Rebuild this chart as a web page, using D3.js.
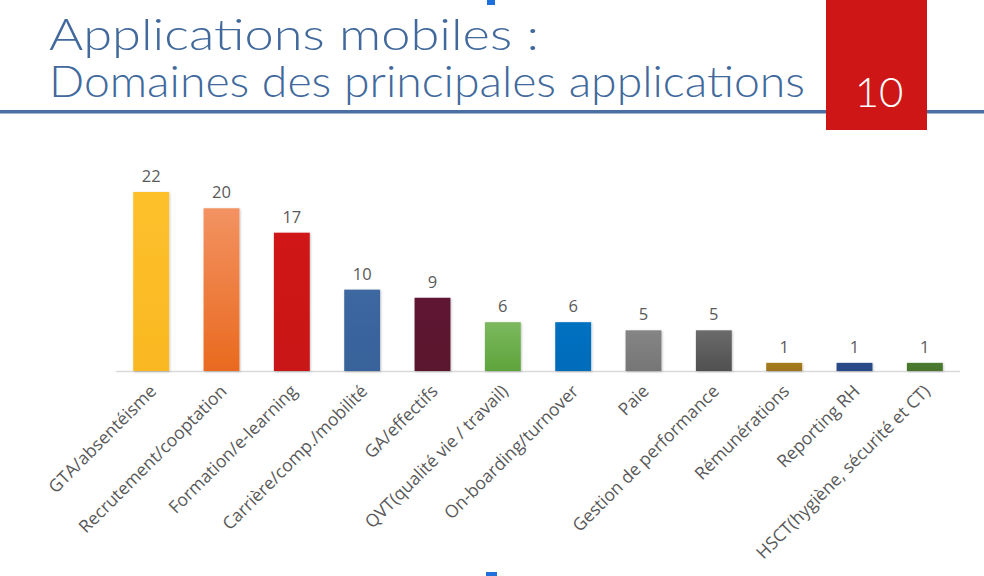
<!DOCTYPE html>
<html>
<head>
<meta charset="utf-8">
<script src="https://cdn.jsdelivr.net/npm/d3@7"></script>
<style>
  html, body { margin: 0; padding: 0; background: #ffffff; }
  svg { display: block; }
</style>
</head>
<body>
<svg id="chart" width="984" height="576"></svg>
<script>
// ---- data ----
const categories = [
  "GTA/absentéisme",
  "Recrutement/cooptation",
  "Formation/e-learning",
  "Carrière/comp./mobilité",
  "GA/effectifs",
  "QVT(qualité vie / travail)",
  "On-boarding/turnover",
  "Paie",
  "Gestion de performance",
  "Rémunérations",
  "Reporting RH",
  "HSCT(hygiène, sécurité et CT)"
];
const values = [22, 20, 17, 10, 9, 6, 6, 5, 5, 1, 1, 1];
const titleLines = ["Applications mobiles :", "Domaines des principales applications"];
const pageNumber = "10";

// ---- styles ----
const barTop =    ["#fdc02c", "#f39262", "#d01717", "#3c67a0", "#5f1631", "#7cb860", "#0070c0", "#858585", "#6b6b6b", "#a67b1f", "#2c4c8b", "#4b7b30"];
const barBottom = ["#f9b822", "#e96a1f", "#c91515", "#37629a", "#5a132e", "#5ea43a", "#006cba", "#767676", "#505050", "#9e741a", "#284785", "#46742c"];

const svg = d3.select("#chart");
const defs = svg.append("defs");

const shadow = defs.append("filter").attr("id", "shadow")
  .attr("x", "-20%").attr("y", "-20%").attr("width", "140%").attr("height", "140%");
shadow.append("feDropShadow").attr("dx", 0.8).attr("dy", 0.8)
  .attr("stdDeviation", 1).attr("flood-color", "#000").attr("flood-opacity", 0.25);

categories.forEach((c, i) => {
  const g = defs.append("linearGradient").attr("id", "grad" + i)
    .attr("x1", 0).attr("y1", 0).attr("x2", 0).attr("y2", 1);
  g.append("stop").attr("offset", "0%").attr("stop-color", barTop[i]);
  g.append("stop").attr("offset", "100%").attr("stop-color", barBottom[i]);
});

// ---- header ----
const titleColor = "#41699c";
svg.append("rect").attr("x", 0).attr("y", 110).attr("width", 984).attr("height", 3.5)
  .attr("fill", "#4a6fa3");

svg.append("text").attr("x", 49).attr("y", 50)
  .attr("font-family", "Lato, 'Noto Sans', sans-serif").attr("font-size", 44).attr("font-weight", 300)
  .attr("fill", titleColor)
  .attr("textLength", 490).attr("lengthAdjust", "spacingAndGlyphs")
  .text(titleLines[0]);
svg.append("text").attr("x", 49).attr("y", 97)
  .attr("font-family", "Lato, 'Noto Sans', sans-serif").attr("font-size", 44).attr("font-weight", 300)
  .attr("fill", titleColor)
  .attr("textLength", 756).attr("lengthAdjust", "spacingAndGlyphs")
  .text(titleLines[1]);

svg.append("rect").attr("x", 826).attr("y", 0).attr("width", 101).attr("height", 130)
  .attr("fill", "#cf1616");
svg.append("text").attr("x", 879).attr("y", 107).attr("text-anchor", "middle")
  .attr("font-family", "Lato, 'Noto Sans', sans-serif").attr("font-size", 42).attr("font-weight", 300)
  .attr("fill", "#ffffff")
  .text(pageNumber);

// small blue markers
svg.append("rect").attr("x", 487).attr("y", 0).attr("width", 8).attr("height", 5).attr("fill", "#1f6fdc");
svg.append("rect").attr("x", 486).attr("y", 572).attr("width", 11).attr("height", 4).attr("fill", "#1f6fdc");

// ---- chart ----
const x = d3.scaleBand().domain(categories).range([116, 960]).paddingInner(0.49).paddingOuter(0.245);
const y = d3.scaleLinear().domain([0, 22]).range([371, 192]);

const g = svg.append("g");

g.append("line").attr("x1", 116).attr("x2", 960).attr("y1", y(0) + 0.5).attr("y2", y(0) + 0.5)
  .attr("stroke", "#d9d9d9").attr("stroke-width", 1.5);

g.selectAll("rect.bar").data(values).enter().append("rect")
  .attr("class", "bar")
  .attr("x", (d, i) => x(categories[i]))
  .attr("width", x.bandwidth())
  .attr("y", d => y(d))
  .attr("height", d => y(0) - y(d))
  .attr("fill", (d, i) => `url(#grad${i})`)
  .attr("filter", "url(#shadow)");

g.selectAll("text.val").data(values).enter().append("text")
  .attr("class", "val")
  .attr("x", (d, i) => x(categories[i]) + x.bandwidth() / 2)
  .attr("y", d => y(d) - 10)
  .attr("text-anchor", "middle")
  .attr("font-family", "'Open Sans', sans-serif").attr("font-size", 16.5)
  .attr("fill", "#595959")
  .text(d => d);

g.selectAll("text.cat").data(categories).enter().append("text")
  .attr("class", "cat")
  .attr("transform", d => `translate(${x(d) + x.bandwidth() / 2 + 2},${y(0) + 17}) rotate(-45)`)
  .attr("text-anchor", "end")
  .attr("dy", "0.35em")
  .attr("font-family", "'Open Sans', sans-serif").attr("font-size", 17.5)
  .attr("fill", "#595959")
  .text(d => d);
</script>
</body>
</html>
